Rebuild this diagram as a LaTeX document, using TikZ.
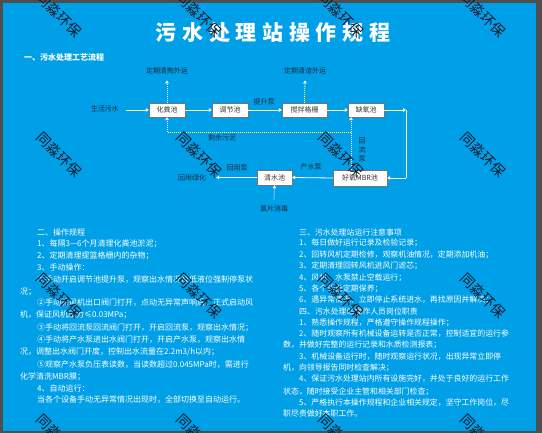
\documentclass[tikz,border=0pt]{standalone}
\usepackage{fontspec}
\usepackage{pdfrender}
\setmainfont{Noto Sans CJK SC}
\usetikzlibrary{arrows.meta}
\definecolor{bgblue}{RGB}{0,160,233}
\definecolor{framec}{RGB}{78,78,78}
\definecolor{lblc}{RGB}{30,40,62}
\definecolor{wmc}{RGB}{15,25,40}
\begin{document}
\begin{tikzpicture}[x=1pt,y=-1pt,
  boxn/.style={draw=black!55, fill=white, minimum height=14, inner sep=0,
    font=\fontsize{7}{8}\selectfont, text=black!80},
  lbl/.style={font=\fontsize{7}{9}\selectfont, text=lblc, inner sep=0},
  arr/.style={draw=white, line width=0.8, -{Triangle[length=3pt,width=3.6pt]}},
  wline/.style={draw=white, line width=0.8},
  darr/.style={arr, dash pattern=on 1pt off 1pt},
  dline/.style={wline, dash pattern=on 1pt off 1pt},
  ln/.style={anchor=west, inner sep=0, font=\fontsize{8}{9}\selectfont, text=white},
  rn/.style={anchor=west, inner sep=0, font=\fontsize{7.9}{9}\selectfont, text=white},
  titlen/.style={inner sep=0, text=white, font=\fontsize{21}{22}\selectfont\bfseries\addfontfeature{LetterSpace=27}},
  wm/.style={rotate=-45, inner sep=0, text=wmc, font=\fontsize{14}{14}\selectfont}
]
\useasboundingbox (0,0) rectangle (542,433);
\fill[framec] (0,0) rectangle (542,433);
\fill[bgblue] (3,3) rectangle (536,431);

% title and heading
\node[titlen] (title) at (273,33) {污水处理站操作规程};
\node[ln, font=\fontsize{8}{9}\selectfont\bfseries] (h1) at (24,57) {一、污水处理工艺流程};

% process boxes
\node[boxn, minimum width=36] (hf) at (167,110) {化粪池};
\node[boxn, minimum width=36] (tj) at (230,110) {调节池};
\node[boxn, minimum width=45] (gs) at (304.5,110) {搅拌格栅};
\node[boxn, minimum width=36] (qy) at (366,110) {缺氧池};
\node[boxn, minimum width=54, minimum height=16] (mbr) at (360,178) {好氧MBR池};
\node[boxn, minimum width=35, minimum height=15] (qs) at (274.5,177.5) {清水池};

% labels
\node[lbl] (sh) at (105,109) {生活污水};
\node[lbl] (dq1) at (167,71) {定期清掏外运};
\node[lbl] (dq2) at (305,71) {定期清渣外运};
\node[lbl] (tsb) at (264,102) {提升泵};
\node[lbl] (syw) at (222,138) {剩余污泥};
\node[lbl, align=center] (hlb) at (362,150) {回\\流\\泵};
\node[lbl] (csb) at (311,167) {产水泵};
\node[lbl] (hyb) at (237,168) {回用泵};
\node[lbl] (hylh) at (192,178) {回用绿化};
\node[lbl] (lp) at (274,209) {氯片消毒};

% connectors
\draw[arr] ([xshift=7pt]sh.east |- hf.west) -- (hf.west);
\draw[arr] (hf) -- (tj);
\draw[arr] (tj) -- (gs);
\draw[arr] (gs) -- (qy);
\draw[darr] (hf.north) -- ([yshift=-6pt]dq1.south);
\draw[darr] (gs.north) -- ([yshift=-6pt]dq2.south);
\coordinate (c1) at (406,110);
\coordinate (c2) at (406,178);
\draw[arr] (qy.east) -- (c1);
\draw[wline] (c1) -- (c2);
\draw[arr] (c2) -- (mbr.east);
\coordinate (rx) at (351,132);
\draw[darr] (mbr.north -| rx) -- (qy.south -| rx);
\draw[dline] (rx) -- (rx -| hf.south);
\draw[darr] (rx -| hf.south) -- (hf.south);
\draw[arr] (mbr.west) -- (qs.east);
\draw[arr] (qs.west) -- ([xshift=10pt]hylh.east |- qs.west);
\draw[darr] ([yshift=6pt]lp.north) -- (qs.south);

% left column
\node[ln] (a0) at (37,232) {二、操作规程};
\node[ln] (a1) at (37,244) {1、每隔3—6个月清理化粪池淤泥；};
\node[ln] (a2) at (37,255.5) {2、定期清理提篮格栅内的杂物；};
\node[ln] (a3) at (37,267.5) {3、手动操作：};
\node[ln] (a4) at (37,280) {①手动开启调节池提升泵，观察出水情况及低液位强制停泵状};
\node[ln] (a5) at (20,291.5) {况；};
\node[ln] (a6) at (37,303) {②手动将风机出口阀门打开，点动无异常声响后，正式启动风};
\node[ln] (a7) at (20,315) {机，保证风机压力≤0.03MPa；};
\node[ln] (a8) at (37,327.5) {③手动将回流泵回流阀门打开，开启回流泵，观察出水情况；};
\node[ln] (a9) at (37,340) {④手动将产水泵进出水阀门打开，开启产水泵，观察出水情};
\node[ln] (a10) at (20,352) {况，调整出水阀门开度，控制出水流量在2.2m3/h以内；};
\node[ln] (a11) at (37,365) {⑤观察产水泵负压表读数，当读数超过0.045MPa时，需进行};
\node[ln] (a12) at (20,376.5) {化学清洗MBR膜；};
\node[ln] (a13) at (37,388) {4、自动运行：};
\node[ln] (a14) at (37,400) {当各个设备手动无异常情况出现时，全部切换至自动运行。};

% right column
\node[rn] (b0) at (299,232) {三、污水处理站运行注意事项};
\node[rn] (b1) at (299,243) {1、每日做好运行记录及检验记录；};
\node[rn] (b2) at (299,254.5) {2、回转风机定期检修，观察机油情况，定期添加机油；};
\node[rn] (b3) at (299,266) {3、定期清理回转风机进风门滤芯；};
\node[rn] (b4) at (299,277.5) {4、风机、水泵禁止空载运行；};
\node[rn] (b5) at (299,289) {5、各个设备定期保养；};
\node[rn] (b6) at (299,300) {6、遇异常情况，立即停止系统进水，再找原因并解决；};
\node[rn] (b7) at (299,311.5) {四、污水处理站操作人员岗位职责};
\node[rn] (b8) at (299,323) {1、熟悉操作规程，严格遵守操作规程操作；};
\node[rn] (b9) at (299,334) {2、随时观察所有机械设备运转是否正常，控制适宜的运行参};
\node[rn] (b10) at (283,345) {数，并做好完整的运行记录和水质检测报表；};
\node[rn] (b11) at (299,356.5) {3、机械设备运行时，随时观察运行状况，出现异常立即停};
\node[rn] (b12) at (283,367.5) {机，向领导报告同时检查解决；};
\node[rn] (b13) at (299,379) {4、保证污水处理站内所有设施完好，并处于良好的运行工作};
\node[rn] (b14) at (283,391.5) {状态，随时接受企业主管和相关部门检查；};
\node[rn] (b15) at (299,403) {5、严格执行本操作规程和企业相关规定，坚守工作岗位，尽};
\node[rn] (b16) at (283,413.5) {职尽责做好本职工作。};

% watermarks
\foreach \wx in {59,199,341,483}{
  \foreach \wy in {15,155,296,437}{
    \node[wm] (wm-\wx-\wy) at (\wx,\wy) {\textpdfrender{TextRenderingMode=1,LineWidth=0.35,StrokeColor=wmc}{同淼环保}};
  }
}
\end{tikzpicture}
\end{document}
